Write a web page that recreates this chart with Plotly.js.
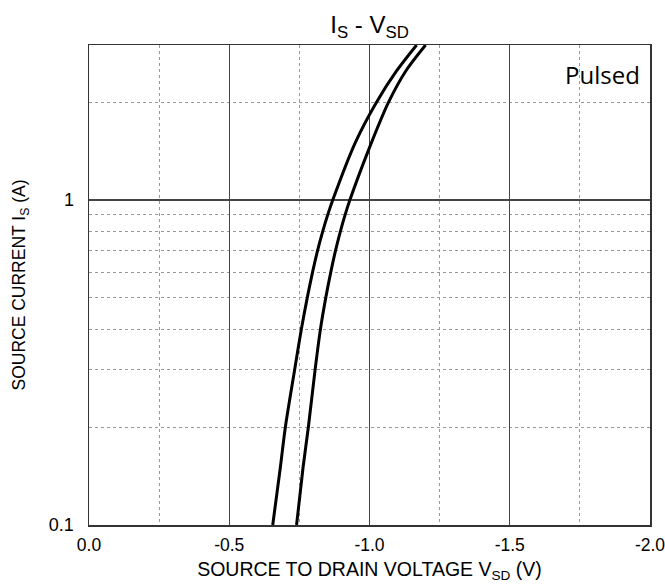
<!DOCTYPE html>
<html>
<head>
<meta charset="utf-8">
<script src="https://cdn.plot.ly/plotly-3.0.1.min.js"></script>
<style>html,body{margin:0;padding:0;background:#fff;}#chart{width:665px;height:586px;}</style>
</head>
<body>
<div id="chart"></div>
<script>
// Curve A (left)
const curveA_V = [-0.655, -0.682, -0.700, -0.733, -0.757, -0.778, -0.797, -0.815, -0.833, -0.851, -0.869, -0.949, -1.025, -1.097, -1.168];
const curveA_I = [0.1, 0.15, 0.2, 0.3, 0.4, 0.5, 0.6, 0.7, 0.8, 0.9, 1.0, 1.5, 2.0, 2.5, 3.0];
// Curve B (right)
const curveB_V = [-0.740, -0.763, -0.782, -0.806, -0.825, -0.844, -0.862, -0.879, -0.896, -0.913, -0.930, -1.000, -1.068, -1.130, -1.200];
const curveB_I = [0.1, 0.15, 0.2, 0.3, 0.4, 0.5, 0.6, 0.7, 0.8, 0.9, 1.0, 1.45, 2.0, 2.5, 3.0];

const xTickVals = [0, -0.5, -1.0, -1.5, -2.0];
const xTickText = ['0.0', '-0.5', '-1.0', '-1.5', '-2.0'];
const xMinorVals = [-0.25, -0.75, -1.25, -1.75];
const yTickVals = [0.1, 1];
const yTickText = ['0.1', '1'];
const yMinorVals = [0.2, 0.3, 0.4, 0.5, 0.6, 0.7, 0.8, 0.9, 2, 3];

const lineStyle = {color: '#000', width: 3, shape: 'spline', smoothing: 0.8};
const traces = [
  {x: curveA_V, y: curveA_I, mode: 'lines', line: lineStyle, hoverinfo: 'skip'},
  {x: curveB_V, y: curveB_I, mode: 'lines', line: lineStyle, hoverinfo: 'skip'}
];

const fam = 'Liberation Sans, Arial, sans-serif';
const layout = {
  width: 665, height: 586,
  margin: {l: 89, r: 15, t: 45, b: 61},
  paper_bgcolor: '#fff', plot_bgcolor: '#fff',
  showlegend: false,
  font: {family: fam, color: '#000'},
  title: {text: 'I<sub>S</sub> - V<sub>SD</sub>', font: {family: fam, size: 24, color: '#000'},
          x: 0.5, xanchor: 'center', xref: 'paper', yref: 'container', y: 1 - 25/586, yanchor: 'middle'},
  xaxis: {
    range: [0, -2], tickmode: 'array', tickvals: xTickVals, ticktext: xTickText,
    showgrid: true, gridcolor: '#444', gridwidth: 1.2,
    showline: true, linecolor: '#333', linewidth: 1.5, mirror: true,
    ticks: '', zeroline: false,
    tickfont: {family: fam, size: 17.5, color: '#000'},
    ticklabelstandoff: 3,
    ticklabeloverflow: 'allow',
    minor: {tickmode: 'array', tickvals: xMinorVals, showgrid: true, gridcolor: '#999', gridwidth: 1, griddash: '3px,3px', ticks: ''},
    title: {text: 'SOURCE TO DRAIN VOLTAGE V<sub>SD</sub> (V)', font: {family: fam, size: 19.5, color: '#000'}, standoff: 9}
  },
  yaxis: {
    type: 'log', range: [-1, Math.log10(3)], tickmode: 'array', tickvals: yTickVals, ticktext: yTickText,
    showgrid: true, gridcolor: '#444', gridwidth: 1.2,
    showline: true, linecolor: '#333', linewidth: 1.5, mirror: true,
    ticks: '', zeroline: false,
    tickfont: {family: fam, size: 18, color: '#000'},
    ticklabelstandoff: 10,
    ticklabeloverflow: 'allow',
    minor: {tickmode: 'array', tickvals: yMinorVals, showgrid: true, gridcolor: '#999', gridwidth: 1, griddash: '3px,3px', ticks: ''},
    title: {text: 'SOURCE CURRENT I<sub>S</sub> (A)', font: {family: fam, size: 17.5, color: '#000'}, standoff: 18}
  },
  annotations: [
    {text: 'Pulsed', xref: 'paper', yref: 'paper', x: (602-89)/561, y: 1 - (74-45)/480, xanchor: 'center', yanchor: 'middle', showarrow: false,
     font: {family: 'Open Sans, sans-serif', size: 24, color: '#000'}}
  ]
};

Plotly.newPlot('chart', traces, layout, {displayModeBar: false, staticPlot: true});
</script>
</body>
</html>
